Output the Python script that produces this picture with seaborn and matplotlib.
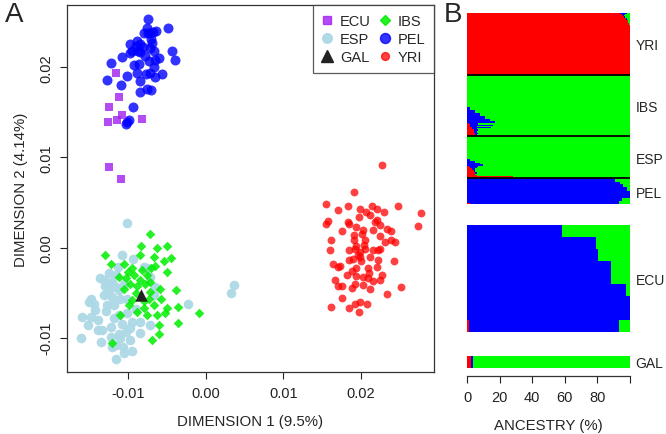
import numpy as np
import pandas as pd
import seaborn as sns
import matplotlib.pyplot as plt
from matplotlib.lines import Line2D
from matplotlib.ticker import FormatStrFormatter

sns.set_style('ticks')
plt.rcParams['font.family'] = ['Liberation Sans', 'DejaVu Sans']
plt.rcParams['axes.unicode_minus'] = False

# --- panel A: MDS coordinates (values in units of 1e-3) ---
ecu_x = [-11.5, -11.1, -12.5, -12.6, -11.4, -10.8, -8.2, -12.4, -10.9]
ecu_y = [19.4, 16.7, 15.6, 13.9, 14.1, 14.7, 14.3, 8.9, 7.6]

pel_x = [-7.4, -4.9, -8.0, -7.4, -7.1, -6.8, -6.4, -9.7, -9.0, -8.4, -9.5, -8.7,
         -8.4, -7.2, -6.6, -4.3, -4.0, -10.8, -12.2, -7.3, -6.5, -6.0, -6.6, -7.1,
         -7.7, -8.8, -10.1, -12.7, -10.9, -8.5, -6.5, -5.6, -8.4, -7.6, -7.0, -9.4,
         -9.9, -10.3, -10.1, -8.9, -8.1, -7.8, -9.2, -6.9, -7.5, -8.6, -9.8, -7.0]
pel_y = [25.4, 24.4, 23.8, 23.8, 23.8, 23.9, 24.0, 22.6, 22.4, 22.6, 21.8, 21.8,
         21.7, 22.1, 21.8, 21.8, 20.8, 21.1, 20.5, 20.7, 20.8, 21.0, 20.0, 19.4,
         19.3, 19.4, 19.0, 18.6, 18.0, 18.5, 18.9, 19.2, 17.3, 17.6, 17.5, 15.6,
         14.2, 13.7, 13.9, 22.9, 22.2, 21.2, 20.2, 22.7, 24.3, 20.4, 21.6, 23.1]

esp_x = [-10.1, -10.8, -9.3, -11.3, -8.0, -13.6, -13.1, -12.5, -12.0, -11.6,
         -11.2, -12.5, -13.1, -14.8, -15.0, -14.4, -12.7, -11.8, -11.0, -10.1,
         -7.5, -7.1, -6.5, -6.7, -2.3, 3.3, 3.6, -15.9, -14.8, -15.2, -13.9,
         -13.3, -12.2, -11.8, -11.2, -10.1, -9.5, -8.4, -7.1, -16.0, -13.5,
         -12.2, -11.6, -10.7, -10.5, -9.5, -11.5, -10.3, -8.5, -9.7, -11.0,
         -12.8, -13.8, -12.0, -11.5, -12.5, -13.0, -14.2, -10.5, -9.0, -10.8,
         -12.0, -9.8, -11.2]
esp_y = [2.73, -0.85, -1.22, -2.21, -2.14, -3.36, -3.62, -3.99, -3.80, -4.35,
         -4.72, -4.72, -5.28, -5.65, -6.02, -6.31, -6.38, -6.38, -5.65, -5.65,
         -2.32, -3.25, -4.35, -5.28, -6.31, -5.02, -4.17, -7.68, -7.68, -8.60,
         -9.15, -9.15, -8.78, -7.86, -7.49, -7.31, -8.23, -8.23, -8.60, -10.0,
         -10.52, -9.89, -10.81, -11.0, -11.73, -11.48, -12.36, -9.34, -9.52,
         -8.97, -10.07, -7.0, -8.0, -5.5, -3.0, -2.8, -4.3, -6.9, -4.0, -6.8,
         -8.5, -11.0, -10.3, -9.6]

ibs_x = [-7.2, -13.0, -8.3, -6.3, -5.0, -12.2, -10.5, -8.4, -6.6, -5.4, -4.5,
         -9.5, -8.2, -7.0, -5.0, -11.2, -10.3, -9.7, -8.4, -7.1, -5.9, -3.8,
         -10.5, -9.0, -7.3, -6.7, -5.8, -5.0, -3.5, -0.9, -8.8, -7.6, -6.2,
         -5.2, -3.5, -6.0, -9.9, -11.0, -6.0, -6.9, -12.0, -8.0, -7.1,
         -9.2, -8.8, -7.8, -9.5, -8.0, -6.5, -10.0, -7.5]
ibs_y = [1.48, -0.85, 0.15, 0.0, 0.15, -1.77, -1.77, -0.85, -1.03, -1.48, -1.11,
         -2.32, -2.51, -2.32, -2.69, -3.25, -3.43, -3.99, -3.62, -3.80, -4.54,
         -4.72, -4.54, -5.09, -5.65, -6.38, -5.65, -6.75, -6.57, -7.31, -7.12,
         -7.49, -7.49, -7.31, -8.34, -8.60, -6.38, -7.49, -9.63, -10.26, -10.55,
         -6.75, -4.91, -3.0, -4.3, -4.0, -5.8, -5.9, -2.0, -2.7, -3.0]

gal_x = [-8.3]
gal_y = [-5.3]

yri_x = [22.7, 19.1, 15.5, 17.0, 18.3, 19.9, 20.7, 21.4, 22.0, 22.9, 24.8, 27.7,
         15.5, 15.7, 18.3, 18.5, 19.7, 21.1, 21.8, 22.0, 22.4, 23.3, 23.9, 27.4,
         17.5, 19.4, 16.1, 16.0, 19.1, 20.1, 19.1, 20.5, 22.4, 23.1, 23.9, 24.4,
         18.4, 19.2, 19.9, 20.5, 21.6, 22.2, 22.4, 18.4, 19.0, 19.9, 21.1, 22.2,
         24.3, 16.4, 17.0, 17.3, 20.9, 22.0, 19.4, 18.2, 19.4, 20.3, 20.9, 22.7,
         22.4, 21.6, 16.7, 17.0, 17.5, 18.8, 20.3, 21.2, 19.2, 25.2, 17.6, 23.3,
         19.2, 19.9, 20.8, 18.4, 16.1, 19.8, 19.6, 20.0, 19.3, 20.4, 18.9, 21.0,
         20.2, 21.5]
yri_y = [9.2, 6.2, 4.87, 4.13, 4.58, 4.24, 3.95, 4.61, 4.32, 3.95, 4.61, 3.87,
         2.66, 2.92, 2.84, 2.66, 3.40, 3.65, 2.84, 3.03, 2.47, 2.10, 1.81, 2.40,
         1.81, 2.29, 0.81, -0.30, 1.44, 1.55, 0.81, 0.81, 1.29, 0.63, 0.81, 0.63,
         -0.30, -0.18, -0.48, -0.11, -0.30, -0.30, -0.11, -1.40, -1.22, -1.03,
         -1.03, -1.40, -1.51, -1.77, -2.14, -2.07, -2.25, -2.14, -2.32, -3.06,
         -3.14, -3.25, -3.43, -3.06, -3.62, -3.73, -3.62, -4.24, -4.24, -4.47,
         -4.10, -4.61, -3.99, -4.39, -5.57, -5.20, -6.31, -6.02, -6.24, -6.75,
         -6.61, -7.12, -0.8, -1.5, 0.2, 0.3, -2.6, -2.8, 2.0, 1.9]

# --- panel B: ancestry runs (n individuals, % red, % blue, % green) ---
yri_runs = [(1, 94, 4, 2), (2, 95, 2, 3), (3, 95.5, 1, 3.5), (3, 96.5, 0.5, 3),
            (4, 97.5, 0.5, 2), (4, 98.5, 0, 1.5), (4, 99.3, 0, 0.7), (87, 100, 0, 0)]
ibs_runs = [(56, 0, 0, 100), (5, 0, 2, 98), (5, 0, 5, 95), (5, 0, 8, 92),
            (5, 0, 11, 89), (4, 0, 14, 86), (3, 0, 17, 83), (2, 1, 6, 93),
            (1, 1, 16, 83), (2, 2, 5, 93), (1, 2, 14, 84), (2, 2, 4, 94),
            (1, 3, 12, 85), (2, 3, 3, 94), (1, 4, 10, 86), (2, 4, 3, 93),
            (1, 5, 8, 87), (3, 4, 2, 94), (2, 5, 2, 93), (2, 5, 1, 94), (2, 6, 0, 94)]
esp_runs = [(40, 0, 0, 100), (3, 0, 2, 98), (3, 0, 5, 95), (3, 0, 8, 92),
            (2, 0, 10, 90), (1, 1, 33, 66), (1, 1, 6, 93), (1, 2, 30, 68),
            (2, 2, 4, 94), (3, 3, 2, 95), (3, 4, 1, 95), (3, 5, 1, 94),
            (3, 5, 0, 95), (1, 6, 0, 94), (1, 18, 0, 82), (1, 28, 0, 72),
            (1, 10, 0, 90), (1, 4, 0, 96)]
pel_runs = [(2, 0, 89, 11), (4, 0, 91, 9), (5, 0, 94, 6), (5, 0, 96, 4),
            (6, 0, 98, 2), (12, 0, 100, 0), (5, 0, 95, 5), (4, 0, 93, 7), (2, 2, 91, 7)]
ecu_red = [0, 0, 0, 0, 0, 0, 0, 0, 1]
ecu_blue = [58.5, 79.4, 80.4, 88.6, 88.6, 97.8, 100, 100, 92.5]
gal_red, gal_blue = [2.5], [1.0]

top_labels = ['YRI', 'IBS', 'ESP', 'PEL']

# ---------------------------------------------------------------
pops = [('ESP', esp_x, esp_y), ('IBS', ibs_x, ibs_y), ('YRI', yri_x, yri_y),
        ('PEL', pel_x, pel_y), ('ECU', ecu_x, ecu_y), ('GAL', gal_x, gal_y)]
df = pd.concat([pd.DataFrame({'pop': p, 'x': np.array(x) / 1000, 'y': np.array(y) / 1000})
                for p, x, y in pops], ignore_index=True)

style = {
    'ECU': dict(marker='s', color='#A020F0', s=38, alpha=0.8),
    'ESP': dict(marker='o', color='#ADD8E6', s=48, alpha=0.95),
    'GAL': dict(marker='^', color='#222222', s=80, alpha=1.0),
    'IBS': dict(marker='D', color='#00EE00', s=24, alpha=0.85),
    'PEL': dict(marker='o', color='#0000FF', s=52, alpha=0.8),
    'YRI': dict(marker='o', color='#FF0000', s=32, alpha=0.75),
}

fig = plt.figure(figsize=(6.66, 4.35), dpi=100)
ax = fig.add_axes([67 / 666, 1 - 373 / 435, 367 / 666, 367 / 435])

for p, _, _ in pops:
    sns.scatterplot(data=df[df['pop'] == p], x='x', y='y', ax=ax, linewidth=0,
                    legend=False, **style[p])

ax.set_xlim(-0.01785, 0.0294)
ax.set_ylim(-0.0138, 0.0269)
ax.set_xticks([-0.01, 0.0, 0.01, 0.02])
ax.set_yticks([-0.01, 0.0, 0.01, 0.02])
ax.xaxis.set_major_formatter(FormatStrFormatter('%.2f'))
ax.yaxis.set_major_formatter(FormatStrFormatter('%.2f'))
for lab in ax.get_yticklabels():
    lab.set_rotation(90)
    lab.set_va('center')
ax.tick_params(length=5, width=0.8, labelsize=10.5, pad=5, colors='#222222')
ax.set_xlabel('DIMENSION 1 (9.5%)', fontsize=10.8, labelpad=10)
ax.set_ylabel('DIMENSION 2 (4.14%)', fontsize=10.8, labelpad=8)
for sp in ax.spines.values():
    sp.set_linewidth(0.9)
    sp.set_color('#333333')

handles = []
for p in ['ECU', 'ESP', 'GAL', 'IBS', 'PEL', 'YRI']:
    st = style[p]
    handles.append(Line2D([], [], linestyle='none', marker=st['marker'],
                          color=st['color'], alpha=st['alpha'],
                          markersize=np.sqrt(st['s']), label=p))
leg = ax.legend(handles=handles, ncol=2, loc='upper right', borderaxespad=0,
                fancybox=False, edgecolor='#333333', fontsize=10.5,
                handletextpad=0.45, columnspacing=0.6, labelspacing=0.3,
                borderpad=0.6, handlelength=0.8)
leg.get_frame().set_linewidth(0.9)

fig.text(5 / 666, 1 - 15 / 435, 'A', fontsize=20, va='center', ha='left')
fig.text(444 / 666, 1 - 15 / 435, 'B', fontsize=20, va='center', ha='left')


def expand(runs):
    n = [r[0] for r in runs]
    red = np.repeat([r[1] for r in runs], n)
    blue = np.repeat([r[2] for r in runs], n)
    green = np.repeat([r[3] for r in runs], n)
    return red, blue, green


def stack(axb, red, blue, green):
    rows = np.arange(len(red)) + 0.5
    kw = dict(height=1.0, linewidth=0, antialiased=False)
    axb.barh(rows, red, left=0, color='#FF0000', **kw)
    axb.barh(rows, blue, left=red, color='#0000FF', **kw)
    axb.barh(rows, green, left=red + blue, color='#00FF00', **kw)
    axb.set_xlim(0, 100)
    axb.set_ylim(len(red), 0)
    for sp in axb.spines.values():
        sp.set_visible(False)
    axb.set_xticks([])


bx_left, bx_w = 467 / 666, 163 / 666
ax_top = fig.add_axes([bx_left, 1 - 205 / 435, bx_w, 191 / 435])
parts = [expand(r) for r in [yri_runs, ibs_runs, esp_runs, pel_runs]]
red = np.concatenate([p[0] for p in parts])
blue = np.concatenate([p[1] for p in parts])
green = np.concatenate([p[2] for p in parts])
stack(ax_top, red, blue, green)
sizes = np.array([len(p[0]) for p in parts])
bounds = np.cumsum(sizes)
for b in bounds[:-1]:
    ax_top.axhline(b, color='black', lw=1.3)
ax_top.yaxis.tick_right()
ax_top.set_yticks(bounds - sizes / 2)
ax_top.set_yticklabels(top_labels)

ax_ecu = fig.add_axes([bx_left, 1 - 333 / 435, bx_w, 107 / 435])
er = np.array(ecu_red, dtype=float)
eb = np.array(ecu_blue, dtype=float)
stack(ax_ecu, er, eb, 100 - er - eb)
ax_ecu.yaxis.tick_right()
ax_ecu.set_yticks([len(er) / 2])
ax_ecu.set_yticklabels(['ECU'])

ax_gal = fig.add_axes([bx_left, 1 - 369 / 435, bx_w, 12 / 435])
gr = np.array(gal_red)
gb = np.array(gal_blue)
stack(ax_gal, gr, gb, 100 - gr - gb)
ax_gal.yaxis.tick_right()
ax_gal.set_yticks([0.5])
ax_gal.set_yticklabels(['GAL'])
ax_gal.spines['bottom'].set_visible(True)
ax_gal.spines['bottom'].set_position(('outward', 6))
ax_gal.spines['bottom'].set_color('#333333')
ax_gal.spines['bottom'].set_linewidth(0.9)
ax_gal.set_xticks([0, 20, 40, 60, 80, 100])
ax_gal.set_xticklabels(['0', '20', '40', '60', '80', ''])
ax_gal.set_xlabel('ANCESTRY (%)', fontsize=10.8, labelpad=10)

for axb in (ax_top, ax_ecu, ax_gal):
    axb.tick_params(axis='y', length=0, pad=4, labelsize=10)
ax_gal.tick_params(axis='x', length=5, width=0.8, labelsize=10.5, pad=5, colors='#222222')

fig.savefig('out.png', dpi=100)
